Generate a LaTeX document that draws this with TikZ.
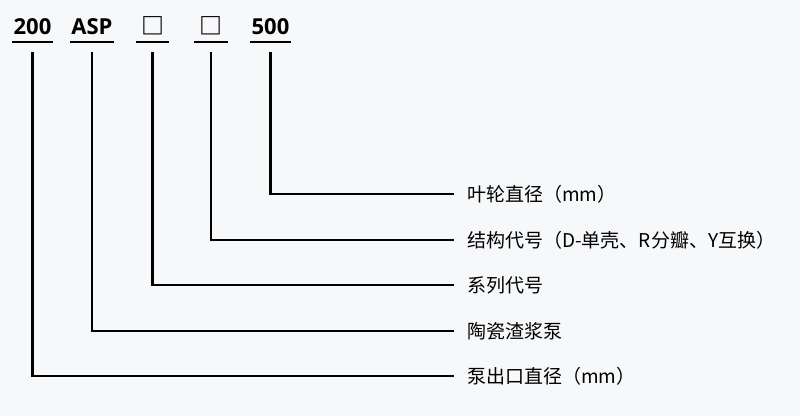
\documentclass[tikz,border=0pt]{standalone}
\usepackage{fontspec}
\setmainfont{Noto Sans CJK SC}
\newfontfamily\codefont{Open Sans}
\newfontfamily\boxfont{Noto Sans CJK SC}
\definecolor{bgGrey}{HTML}{F7F8FA}

\begin{document}
\begin{tikzpicture}[x=1pt, y=-1pt, line width=2.6pt,
    code/.style = {anchor=south, minimum width=31pt, inner xsep=0pt, inner ysep=6pt,
                   text depth=0pt, font=\codefont\bfseries\fontsize{22}{26}\selectfont},
    note/.style = {anchor=west, inner xsep=12pt, inner ysep=0pt,
                   font=\fontsize{19}{23}\selectfont}]
        \def\underY{42}
        \def\lineEnd{454}

        % Background and margins
        \fill[bgGrey] (0,0) rectangle (800,416);
        \useasboundingbox (0,0) rectangle (800,416);

        % Model code parts and their meanings
        \foreach \i/\xPos/\yLevel/\codeText/\noteText in {
            1/32.5/376/200/泵出口直径（mm）,
            2/92/331/ASP/陶瓷渣浆泵,
            3/152.5/285/{\boxfont\fontsize{23}{26}\selectfont □}/系列代号,
            4/211/240/{\boxfont\fontsize{23}{26}\selectfont □}/结构代号（D-单壳、R分瓣、Y互换）,
            5/270.5/194/500/叶轮直径（mm）}{
            \node[code] (code-\i) at (\xPos, \underY) {\codeText};
            \node[note] (note-\i) at (\lineEnd, \yLevel) {\noteText};
          }

        % Underlines below each part
        \foreach \i in {1,...,5}{
            \draw (code-\i.south west) -- (code-\i.south east);
          }

        % Leaders from each part down to its meaning
        \foreach \i in {1,...,5}{
            \draw ([yshift=-10pt]code-\i.south) |- (note-\i.west);
          }
      \end{tikzpicture}
\end{document}
